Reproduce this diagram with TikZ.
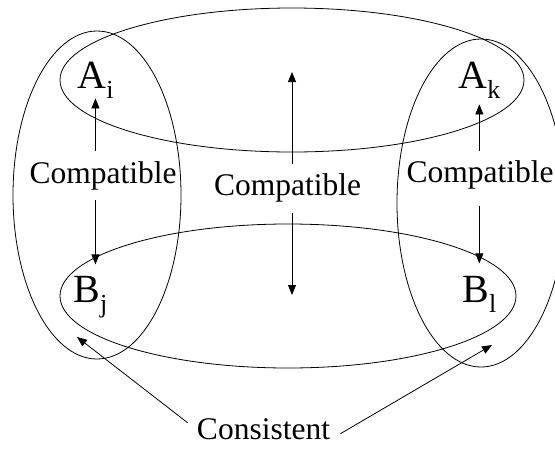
\documentclass[tikz,border=0pt]{standalone}
\usepackage{fontspec}
\setmainfont{Liberation Serif}
\usepackage{tikz}
\usetikzlibrary{shapes.geometric, arrows.meta, positioning, calc}

\newcommand{\elsub}[1]{\raisebox{-10pt}{\fontsize{26}{26}\selectfont #1}}

\begin{document}
\begin{tikzpicture}[
  x=1pt, y=-1pt, >={Triangle[length=10pt,width=8pt]}, line width=0.8pt,
  lbl/.style={font=\fontsize{31.5}{36}\selectfont, inner sep=3pt, anchor=base},
  elem/.style={font=\fontsize{40}{46}\selectfont, inner sep=0pt, anchor=base west}]
  \useasboundingbox (0,0) rectangle (555,448);
  % the four sets
  \draw (292,80) ellipse [x radius=232, y radius=72];
  \draw (288,296) ellipse [x radius=228, y radius=72];
  \draw (97,195) ellipse [x radius=84, y radius=164];
  \draw (481,203) ellipse [x radius=84, y radius=164];
  % elements
  \node[elem] (ai) at (77,88) {A\elsub{i}};
  \node[elem] (ak) at (458,88) {A\elsub{k}};
  \node[elem] (bj) at (73,302) {B\elsub{j}};
  \node[elem] (bl) at (462,302) {B\elsub{l}};
  % labels
  \node[lbl] (compl) at (103,183) {Compatible};
  \node[lbl] (compm) at (287.5,195) {Compatible};
  \node[lbl] (compr) at (480,182) {Compatible};
  \node[lbl] (cons) at (263.5,439) {Consistent};
  \coordinate (mt) at (292,72);
  \coordinate (mb) at (292,295);
  \coordinate (cl) at (77,337);
  \coordinate (cr) at (492,345);
  % arrows
  \draw[->, shorten <=7pt] (compl.north -| ai.south) -- (ai.south);
  \draw[->, shorten <=7pt] (compl.south -| ai.south) -- ([yshift=11pt]bj.north -| ai.south);
  \draw[->, shorten <=6pt] (compm.north -| mt) -- (mt);
  \draw[->, shorten <=8pt] (compm.south -| mt) -- (mb);
  \draw[->, shorten <=6pt, shorten >=6pt] (compr.north -| ak.south) -- (ak.south);
  \draw[->, shorten <=14pt] (compr.south -| ak.south) -- ([yshift=12pt]bl.north -| ak.south);
  \draw[->] ([shift={(-6,-6)}]cons.west) -- (cl);
  \draw[->] ([shift={(7,5)}]cons.east) -- (cr);
\end{tikzpicture}
\end{document}
